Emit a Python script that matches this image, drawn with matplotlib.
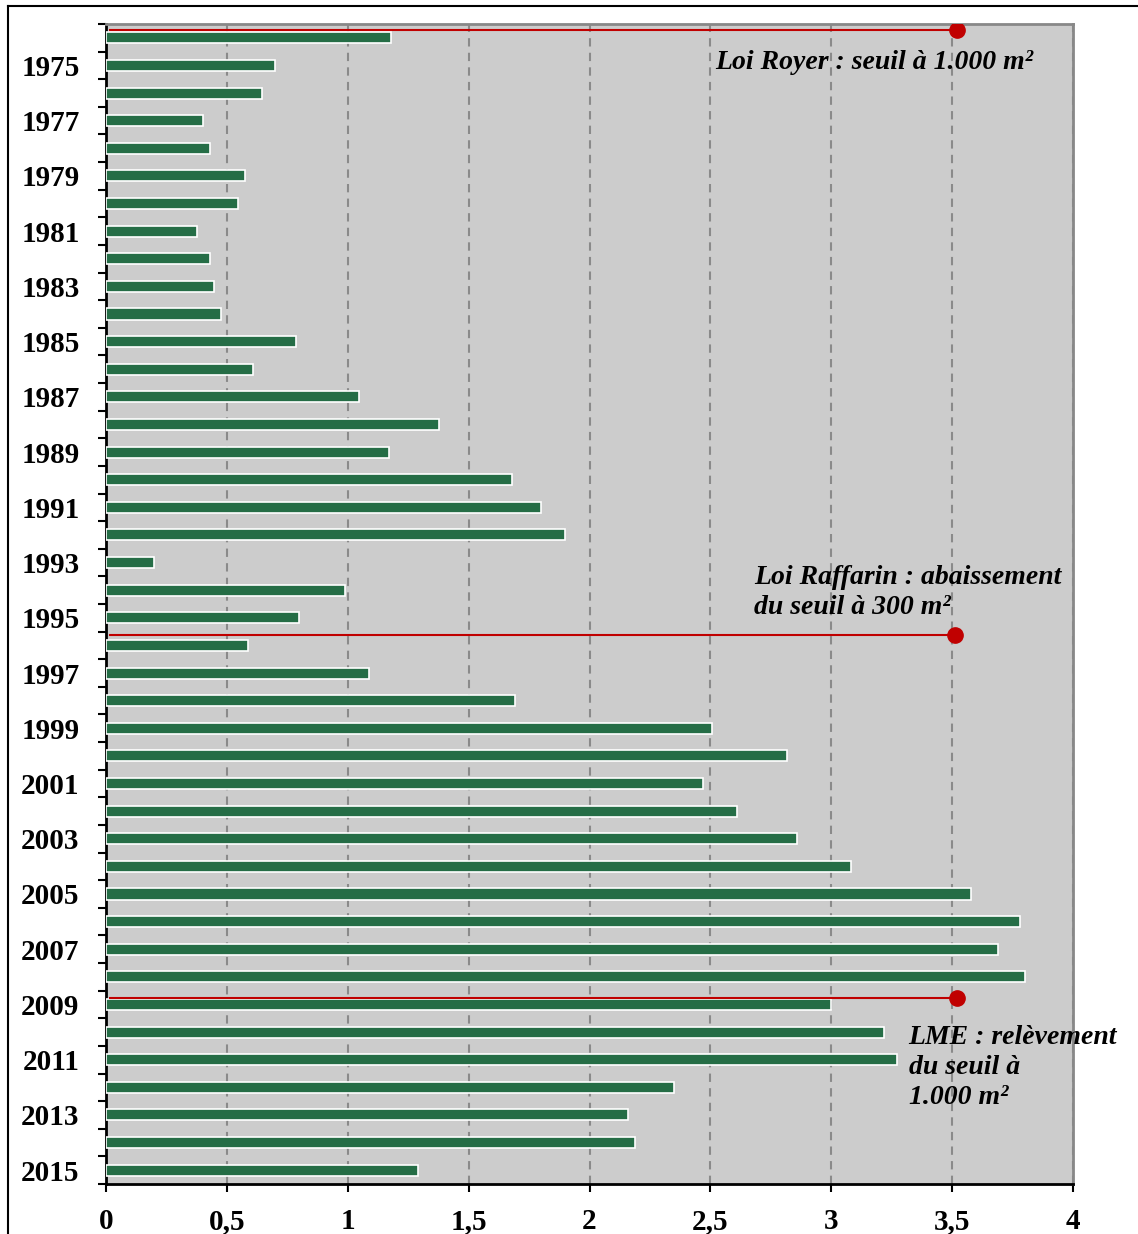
import numpy as np
import matplotlib
matplotlib.use("Agg")
import matplotlib.pyplot as plt
from matplotlib.lines import Line2D

years = list(range(1974, 2016))
values = [1.18, 0.70, 0.645, 0.40, 0.43, 0.575, 0.546, 0.376, 0.43, 0.447,
          0.476, 0.786, 0.608, 1.047, 1.377, 1.17, 1.68, 1.80, 1.90, 0.20,
          0.99, 0.80, 0.587, 1.088, 1.69, 2.507, 2.817, 2.47, 2.61, 2.86,
          3.08, 3.58, 3.78, 3.69, 3.80, 3.00, 3.22, 3.27, 2.35, 2.16,
          2.19, 1.29]

# laws: (position between bars, end of line, label, label x, label y)
law_pos = [-0.28, 21.62, 34.75]
law_end = [3.52, 3.51, 3.52]
law_text = ["Loi Royer : seuil à 1.000 m²",
            "Loi Raffarin : abaissement\ndu seuil à 300 m²",
            "LME : relèvement\ndu seuil à\n1.000 m²"]
law_tx = [2.52, 2.68, 3.32]
law_ty = [0.9, 19.1, 35.75]

xticks = [0, 0.5, 1, 1.5, 2, 2.5, 3, 3.5, 4]
xlabels = ["0", "0,5", "1", "1,5", "2", "2,5", "3", "3,5", "4"]

plt.rcParams['font.family'] = ['Liberation Serif', 'DejaVu Serif']

fig = plt.figure(figsize=(11.38, 12.34), dpi=100)
ax = fig.add_axes([106/1138, 1 - 1184/1234, (1073-106)/1138, (1184-24)/1234])
ax.set_facecolor("#cccccc")

pos = np.arange(len(years))
ax.barh(pos, values, height=0.4, color="#256d46", edgecolor="white", linewidth=1.2, zorder=3)

for i in range(len(law_pos)):
    ax.plot([0.017, law_end[i]], [law_pos[i], law_pos[i]], color="#c00000", lw=1.5, zorder=4)
    ax.plot(law_end[i], law_pos[i], 'o', color="#c00000", markersize=11, zorder=5)
    ax.text(law_tx[i], law_ty[i], law_text[i], fontsize=20, fontweight='bold', fontstyle='italic',
            va='top' if i != 0 else 'center', ha='left', linespacing=1.27, zorder=6)

ax.set_xlim(0, 4)
ax.set_ylim(len(years) - 0.5, -0.5)
ax.set_xticks(xticks)
ax.set_xticklabels(xlabels, fontsize=21, fontweight='bold')
ax.xaxis.grid(True, color="#8a8a8a", linestyle=(0, (4, 3)), linewidth=1.5, zorder=1)
ax.tick_params(axis='x', length=6, width=1.5, pad=11)

odd = [i for i, y in enumerate(years) if y % 2 == 1]
ax.set_yticks(odd)
ax.set_yticklabels([str(years[i]) for i in odd], fontsize=21, fontweight='bold')
ax.set_yticks(np.arange(len(years) + 1) - 0.5, minor=True)
ax.tick_params(axis='y', which='major', length=0, pad=19)
ax.tick_params(axis='y', which='minor', length=6, width=1.5)

ax.spines['left'].set_color('black')
ax.spines['left'].set_linewidth(2)
ax.spines['bottom'].set_color('black')
ax.spines['bottom'].set_linewidth(2)
ax.spines['top'].set_color('#888888')
ax.spines['top'].set_linewidth(2)
ax.spines['right'].set_color('#888888')
ax.spines['right'].set_linewidth(2)

# outer frame
fig.add_artist(Line2D([8/1138, 8/1138], [0, 1 - 6/1234], color='black', lw=1.5))
fig.add_artist(Line2D([8/1138, 1], [1 - 6/1234, 1 - 6/1234], color='black', lw=1.5))

fig.savefig("out.png", dpi=100)
